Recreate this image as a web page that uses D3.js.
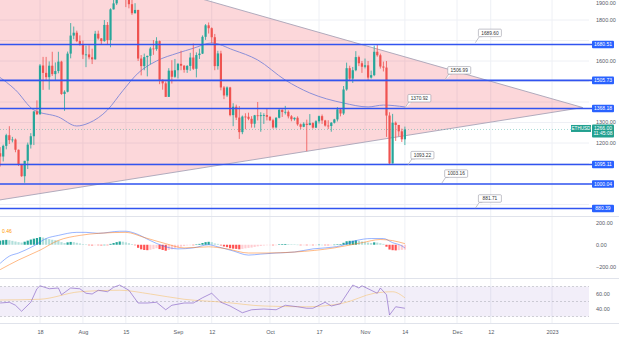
<!DOCTYPE html>
<html><head><meta charset="utf-8">
<script src="https://cdn.jsdelivr.net/npm/d3@7"></script>
<style>body{margin:0;background:#fff;}svg{display:block;font-family:"Liberation Sans",Arial,sans-serif;}</style>
</head><body><svg id="c" width="619" height="343"></svg>
<script>
// ---------- DATA (ETHUSD daily, 2022-07-04 .. 2022-11-14) ----------
const startDate = "2022-07-04";
const open = [1073,1150,1134,1186,1238,1214,1217,1167,1097,1038,1113,1192,1233,1354,1340,1578,1542,1521,1577,1536,1551,1597,1439,1450,1636,1724,1738,1697,
1679,1631,1632,1618,1608,1733,1710,1697,1776,1702,1852,1881,1956,1983,1935,1904,1877,1833,1849,1612,1575,1619,1625,1661,1658,1697,1508,1491,1425,1553,1523,
1555,1586,1577,1557,1576,1617,1562,1629,1636,1718,1774,1760,1716,1575,1637,1471,1432,1471,1336,1377,1324,1253,1329,1328,1318,1294,1335,1331,1336,1336,
1328,1311,1276,1323,1362,1351,1352,1330,1316,1323,1291,1279,1294,1288,1297,1275,1306,1331,1310,1285,1283,1299,1315,1364,1344,1461,1565,1514,1555,1619,1589,
1572,1579,1519,1531,1645,1628,1573,1568,1334,1100,1299,1288,1257,1218];
const high = [1160,1180,1192,1245,1282,1230,1222,1168,1098,1113,1202,1248,1355,1408,1585,1620,1620,1598,1645,1593,1645,1601,1457,1646,1785,1768,1748,1725,
1700,1675,1677,1660,1747,1748,1712,1800,1790,1857,1942,1960,2020,2030,2010,1920,1954,1882,1850,1629,1636,1626,1669,1702,1716,1700,1510,1500,1565,1604,1610,
1590,1650,1580,1580,1640,1685,1642,1660,1725,1780,1788,1764,1732,1650,1650,1478,1476,1474,1394,1387,1380,1334,1345,1348,1331,1337,1400,1350,1345,1370,
1330,1318,1326,1366,1364,1381,1359,1336,1325,1330,1295,1301,1314,1341,1301,1311,1334,1339,1313,1311,1302,1318,1375,1369,1478,1592,1577,1571,1648,1626,1600,
1612,1600,1553,1675,1680,1636,1597,1600,1350,1342,1305,1288,1270,1280];
const low = [1060,1085,1110,1169,1195,1203,1155,1088,1035,1006,1073,1173,1190,1337,1339,1459,1504,1460,1527,1508,1540,1435,1357,1447,1613,1706,1692,1675,
1610,1570,1608,1585,1607,1704,1678,1694,1680,1667,1851,1873,1957,1923,1863,1857,1825,1832,1600,1530,1555,1525,1584,1630,1650,1487,1460,1425,1425,1490,1518,
1515,1555,1543,1542,1552,1556,1520,1610,1634,1703,1734,1686,1555,1558,1457,1414,1424,1330,1282,1312,1220,1243,1267,1311,1275,1275,1310,1255,1293,1310,
1307,1270,1271,1320,1327,1339,1320,1306,1309,1284,1268,1277,1160,1286,1270,1273,1295,1293,1280,1268,1255,1295,1305,1330,1337,1455,1502,1493,1550,1575,1542,
1564,1504,1514,1526,1621,1563,1549,1230,1093,1100,1210,1232,1205,1190];
const close = [1150,1134,1186,1238,1214,1217,1167,1097,1038,1113,1192,1233,1354,1340,1578,1542,1521,1577,1536,1551,1597,1439,1450,1636,1724,1738,1697,1679,
1631,1632,1618,1608,1733,1710,1697,1776,1702,1852,1881,1956,1983,1935,1904,1877,1833,1849,1612,1575,1619,1625,1661,1658,1697,1508,1491,1425,1553,1523,1555,
1586,1577,1557,1576,1617,1562,1629,1636,1718,1774,1760,1716,1575,1637,1471,1432,1471,1336,1377,1324,1253,1329,1328,1318,1294,1335,1331,1336,1336,1328,
1311,1276,1323,1362,1351,1352,1330,1316,1323,1291,1279,1294,1288,1297,1275,1306,1331,1310,1285,1283,1299,1315,1364,1344,1461,1565,1514,1555,1619,1589,1572,
1579,1519,1531,1645,1628,1573,1568,1334,1100,1299,1288,1257,1218,1266];

// 50-day moving average
const maDates  = ["2022-07-04","2022-07-10","2022-07-16","2022-07-24","2022-07-30","2022-08-03","2022-08-09","2022-08-14","2022-08-19","2022-08-25","2022-09-01","2022-09-06","2022-09-12","2022-09-19","2022-09-27","2022-10-06","2022-10-14","2022-10-25","2022-11-02","2022-11-07","2022-11-14"];
const maValues = [1530,1459,1361,1327,1283,1298,1361,1455,1541,1600,1639,1662,1688,1654,1605,1507,1444,1395,1376,1385,1376];

// horizontal levels and callouts
const levelValues  = [1680.51,1505.73,1368.18,1095.11,1000.04,880.39];
const levelLabels  = ["1680.51","1505.73","1368.18","1095.11","1000.04","880.39"];
const calloutLabels = ["1689.60","1506.99","1370.92","1093.22","1003.16","881.71"];
const calloutValues = [1689.60,1506.99,1370.92,1093.22,1003.16,881.71];
const calloutDates  = ["2022-12-07","2022-11-27","2022-11-14","2022-11-15","2022-11-26","2022-12-07"];

// triangle (symmetrical) vertices
const triDates  = ["2022-07-01","2023-01-11","2022-07-01"];
const triValues = [2200,1373,913];

const lastPrice = 1266.00;
const lastTime = "11:45:08";
const symbol = "ETHUSD";

// price axis ticks
const priceTicks = [1900,1800,1700,1600,1500,1400,1300,1200,1100,1000,900];

// MACD
const macdDates  = ["2022-07-05","2022-07-08","2022-07-11","2022-07-16","2022-07-20","2022-07-24","2022-07-30","2022-08-02","2022-08-06","2022-08-13","2022-08-15","2022-08-18","2022-08-23","2022-08-27","2022-09-01","2022-09-06","2022-09-11","2022-09-14","2022-09-19","2022-09-24","2022-09-28","2022-10-03","2022-10-09","2022-10-15","2022-10-19","2022-10-24","2022-10-29","2022-11-03","2022-11-07","2022-11-10","2022-11-13","2022-11-14"];
const macdValues = [-171,-105,-76,-10,57,86,114,114,105,124,124,105,38,-10,-38,-29,0,-19,-57,-95,-86,-76,-67,-38,-29,-10,38,57,57,19,-10,-29];
const signalDates  = ["2022-07-05","2022-07-11","2022-07-18","2022-07-24","2022-07-31","2022-08-06","2022-08-15","2022-08-21","2022-08-28","2022-09-03","2022-09-11","2022-09-17","2022-09-24","2022-09-30","2022-10-09","2022-10-22","2022-10-31","2022-11-06","2022-11-10","2022-11-14"];
const signalValues = [-229,-140,-50,40,86,105,114,67,10,-29,-19,-38,-76,-76,-67,-29,19,48,38,10];
const histValues = [30,38,42,45,42,36,30, 24,20,28,38,48,56,62, 70,66,58,52,46,42,38, 24,16,22,26,24,18,12,
 6,2,-3,-6,-2,-4,-6, 0,-2,8,16,24,30,28, 22,14,6,-2,-28,-42,-48, -50,-46,-40,-32,-40,-48,-55,
 -48,-42,-34,-26,-18,-12,-6, -2,-4,2,8,16,24,27, 24,12,8,-6,-16,-22,-32, -36,-38,-42,-38,-33,-29,-26,
 -20,-15,-11,-7,-4,-3,-5, -1,4,6,7,6,5,4, 1,-2,-2,-4,-2,-3,-1, 1,0,-2,-3,-1,1,5,
 6,18,32,36,37,40,36, 30,26,20,16,22,20,14, 8,-18,-44,-50,-52,-50,-47,-45];
const macdTicks = [200,0,-200];

// RSI
const rsiDates = ["2022-07-05","2022-07-08","2022-07-10","2022-07-12","2022-07-15","2022-07-17","2022-07-18","2022-07-21","2022-07-24","2022-07-25","2022-07-28","2022-07-31","2022-08-02","2022-08-04","2022-08-06","2022-08-09","2022-08-11","2022-08-13","2022-08-16","2022-08-19","2022-08-22","2022-08-25","2022-08-28","2022-08-30","2022-09-03","2022-09-06","2022-09-09","2022-09-12","2022-09-15","2022-09-18","2022-09-22","2022-09-25","2022-09-29","2022-10-03","2022-10-06","2022-10-10","2022-10-13","2022-10-15","2022-10-19","2022-10-21","2022-10-24","2022-10-28","2022-10-30","2022-10-31","2022-11-03","2022-11-05","2022-11-06","2022-11-08","2022-11-09","2022-11-11","2022-11-14"];
const rsiValues = [48,49,45,37,49,67,71,67,68,59,68,67,61,60,65,63,69,72,65,48,48,49,39,45,48,48,55,61,49,44,35,39,40,39,45,43,41,41,49,44,47,72,68,71,65,61,68,59,32,43,41];
const rsiMaDates = ["2022-07-05","2022-07-18","2022-07-31","2022-08-13","2022-08-23","2022-09-03","2022-09-16","2022-09-29","2022-10-13","2022-10-25","2022-11-04","2022-11-10","2022-11-14"];
const rsiMaValues = [52,53,63,65,60,53,49,44,43,48,61,63,55];
const rsiTicks = [60,40];

// date axis
const tickDates  = ["2022-07-18","2022-08-01","2022-08-15","2022-09-01","2022-09-12","2022-10-01","2022-10-17","2022-11-01","2022-11-14","2022-12-01","2022-12-12","2023-01-01"];
const tickLabels = ["18","Aug","15","Sep","12","Oct","17","Nov","14","Dec","12","2023"];

// ---------- DRAW ----------
const P = d3.utcParse("%Y-%m-%d");
const svg = d3.select("#c");
const plotR = 589;
const main = {top:0,bottom:216}, mp = {top:217,bottom:277}, rp = {top:279,bottom:323};

const x = d3.scaleUtc().domain([P("2022-07-18"), P("2022-12-01")]).range([40,457]);
const y = d3.scaleLinear().domain([900,1800]).range([204.5,20]);
const yM = d3.scaleLinear().domain([-200,200]).range([266.5,223]);
const yR = d3.scaleLinear().domain([30,70]).range([316.5,286.5]);

const days = d3.utcDay.range(P(startDate), d3.utcDay.offset(P(startDate), close.length));
const candles = days.map((d,i)=>({d, o:open[i], h:high[i], l:low[i], c:close[i], hist:histValues[i]}));

const defs = svg.append("defs");
[["cm",main],["cmacd",mp],["crsi",rp]].forEach(([id,p])=>{
  defs.append("clipPath").attr("id",id).append("rect").attr("x",0).attr("y",p.top).attr("width",plotR).attr("height",p.bottom-p.top);
});

// grids
const grid = svg.append("g");
grid.selectAll(".vg").data(tickDates).join("line")
  .attr("x1",d=>x(P(d))).attr("x2",d=>x(P(d))).attr("y1",0).attr("y2",323)
  .attr("stroke","#eef0f5").attr("stroke-width",1);
grid.selectAll(".hg").data(priceTicks).join("line")
  .attr("x1",0).attr("x2",plotR).attr("y1",d=>y(d)).attr("y2",d=>y(d))
  .attr("stroke","#eef0f5").attr("stroke-width",1).attr("clip-path","url(#cm)");

// panel separators
[main.bottom+0.5, mp.bottom+1.5, rp.bottom+0.5].forEach(v=>{
  svg.append("line").attr("x1",0).attr("x2",619).attr("y1",v).attr("y2",v).attr("stroke","#e0e3eb");
});

// main panel
const gm = svg.append("g").attr("clip-path","url(#cm)");
const triPts = triDates.map((d,i)=>[x(P(d)), y(triValues[i])]);
gm.append("path").attr("d", d3.line()(triPts)+"Z")
  .attr("fill","rgba(242,54,69,0.2)").attr("stroke","#a8a4b8").attr("stroke-width",0.9);

// current price line
gm.append("line").attr("x1",0).attr("x2",plotR).attr("y1",y(lastPrice)).attr("y2",y(lastPrice))
  .attr("stroke","#26a69a").attr("stroke-opacity",0.5).attr("stroke-dasharray","1,2").attr("stroke-width",0.8);

// MA
gm.append("path").datum(maDates.map((d,i)=>[x(P(d)), y(maValues[i])]))
  .attr("d", d3.line().curve(d3.curveMonotoneX)).attr("fill","none")
  .attr("stroke","#8b8fd8").attr("stroke-width",1);

// candles
const up="#26a69a", dn="#ef5350";
const cg = gm.append("g");
cg.selectAll(".w").data(candles).join("line")
  .attr("x1",d=>x(d.d)).attr("x2",d=>x(d.d)).attr("y1",d=>y(d.h)).attr("y2",d=>y(d.l))
  .attr("stroke",d=>d.c>=d.o?up:dn).attr("stroke-width",0.8);
cg.selectAll(".b").data(candles).join("rect")
  .attr("x",d=>x(d.d)-1.1).attr("width",2.2)
  .attr("y",d=>y(Math.max(d.o,d.c))).attr("height",d=>Math.max(0.8, Math.abs(y(d.o)-y(d.c))))
  .attr("fill",d=>d.c>=d.o?up:dn);

// levels
const lv = svg.append("g");
lv.selectAll("line").data(levelValues).join("line")
  .attr("x1",0).attr("x2",plotR+4).attr("y1",d=>y(d)).attr("y2",d=>y(d))
  .attr("stroke","#3154f0").attr("stroke-width",1.6);

// callouts
const co = svg.append("g");
calloutValues.forEach((v,i)=>{
  const ax = x(P(calloutDates[i])), ay = y(v);
  const bx = ax+3, by = ay-13.5, bw = 23, bh = 7.5;
  co.append("path").attr("d",`M${ax},${ay} L${bx+1},${by+bh} L${bx+4},${by+bh}`)
    .attr("fill","#fff").attr("stroke","#9a9aa6").attr("stroke-width",0.6);
  co.append("rect").attr("x",bx).attr("y",by).attr("width",bw).attr("height",bh).attr("rx",1)
    .attr("fill","#fff").attr("stroke","#9a9aa6").attr("stroke-width",0.6);
  co.append("text").attr("x",bx+bw/2).attr("y",by+bh/2).attr("dy","0.35em").attr("text-anchor","middle")
    .attr("font-size",4.8).attr("fill","#333").text(calloutLabels[i]);
});

// price axis
const blocked = levelValues.map(v=>y(v)).concat([y(lastPrice)+2]);
const shownTicks = priceTicks.filter(t=>blocked.every(b=>Math.abs(y(t)-b)>7));
const pax = svg.append("g").attr("transform",`translate(596,0)`)
  .call(d3.axisRight(y).tickValues(shownTicks).tickSize(0).tickPadding(0).tickFormat(d=>d3.format(".2f")(d)));
pax.select(".domain").remove();
pax.selectAll("text").attr("font-size",5.5).attr("fill","#555a66");
// keep the topmost label inside the picture
pax.selectAll(".tick").attr("transform",d=>`translate(0,${Math.max(3.5,y(d))})`);

// level labels on axis
const ll = svg.append("g");
levelValues.forEach((v,i)=>{
  ll.append("rect").attr("x",592).attr("y",y(v)-3.8).attr("width",22).attr("height",7.6).attr("rx",1).attr("fill","#2962ff");
  ll.append("text").attr("x",603).attr("y",y(v)).attr("dy","0.35em").attr("text-anchor","middle")
    .attr("font-size",5).attr("fill","#fff").text(levelLabels[i]);
});

// current price labels
const cp = svg.append("g");
const cy = y(lastPrice);
cp.append("rect").attr("x",571).attr("y",cy-4.5).attr("width",20).attr("height",7).attr("fill","#22a08f");
cp.append("text").attr("x",581).attr("y",cy-1).attr("dy","0.35em").attr("text-anchor","middle")
  .attr("font-size",4.6).attr("fill","#fff").text(symbol);
cp.append("rect").attr("x",592).attr("y",cy-5).attr("width",22).attr("height",13).attr("rx",1).attr("fill","#22a08f");
cp.append("text").attr("x",603).attr("y",cy-1.5).attr("dy","0.35em").attr("text-anchor","middle")
  .attr("font-size",5).attr("fill","#fff").text(d3.format(".2f")(lastPrice));
cp.append("text").attr("x",603).attr("y",cy+4.2).attr("dy","0.35em").attr("text-anchor","middle")
  .attr("font-size",5).attr("fill","#fff").text(lastTime);

// MACD panel
const gmacd = svg.append("g").attr("clip-path","url(#cmacd)");
gmacd.selectAll("rect").data(candles).join("rect")
  .attr("x",d=>x(d.d)-1.1).attr("width",2.2)
  .attr("y",d=>Math.min(yM(0), yM(d.hist))).attr("height",d=>Math.max(0.5,Math.abs(yM(d.hist)-yM(0))))
  .attr("fill",(d,i)=>{
    const prev = i>0 ? candles[i-1].hist : d.hist;
    if (d.hist>=0) return d.hist>=prev ? "#26a69a" : "#b2dfdb";
    return d.hist<prev ? "#ff5252" : "#ffcdd2";
  });
gmacd.append("path").datum(macdDates.map((d,i)=>[x(P(d)), yM(macdValues[i])]))
  .attr("d", d3.line().curve(d3.curveMonotoneX)).attr("fill","none").attr("stroke","#2962ff").attr("stroke-opacity",0.6).attr("stroke-width",0.8);
gmacd.append("path").datum(signalDates.map((d,i)=>[x(P(d)), yM(signalValues[i])]))
  .attr("d", d3.line().curve(d3.curveMonotoneX)).attr("fill","none").attr("stroke","#ff6d00").attr("stroke-opacity",0.6).attr("stroke-width",0.8);
svg.append("text").attr("x",2).attr("y",233).attr("font-size",5).attr("fill","#ff9800").text("0.46");
const max = svg.append("g").attr("transform","translate(596,0)")
  .call(d3.axisRight(yM).tickValues(macdTicks).tickSize(0).tickPadding(0).tickFormat(d=>d3.format(".2f")(d)));
max.select(".domain").remove();
max.selectAll("text").attr("font-size",5.5).attr("fill","#555a66");

// RSI panel
const grsi = svg.append("g").attr("clip-path","url(#crsi)");
grsi.append("rect").attr("x",0).attr("width",plotR).attr("y",yR(70)).attr("height",yR(30)-yR(70)).attr("fill","rgba(126,87,194,0.1)");
[70,50,30].forEach(v=>{
  grsi.append("line").attr("x1",0).attr("x2",plotR).attr("y1",yR(v)).attr("y2",yR(v))
    .attr("stroke","#9598a1").attr("stroke-opacity",0.6).attr("stroke-dasharray","2,2").attr("stroke-width",0.7);
});
grsi.append("path").datum(rsiMaDates.map((d,i)=>[x(P(d)), yR(rsiMaValues[i])]))
  .attr("d", d3.line().curve(d3.curveMonotoneX)).attr("fill","none").attr("stroke","#f5c67a").attr("stroke-opacity",0.8).attr("stroke-width",0.8);
grsi.append("path").datum(rsiDates.map((d,i)=>[x(P(d)), yR(rsiValues[i])]))
  .attr("d", d3.line()).attr("fill","none").attr("stroke","#7e57c2").attr("stroke-opacity",0.75).attr("stroke-width",0.8);
const rax = svg.append("g").attr("transform","translate(596,0)")
  .call(d3.axisRight(yR).tickValues(rsiTicks).tickSize(0).tickPadding(0).tickFormat(d=>d3.format(".2f")(d)));
rax.select(".domain").remove();
rax.selectAll("text").attr("font-size",5.5).attr("fill","#555a66");

// date axis
const dax = svg.append("g").attr("transform","translate(0,324)")
  .call(d3.axisBottom(x).tickValues(tickDates.map(P)).tickSize(0).tickPadding(6).tickFormat((d,i)=>tickLabels[i]));
dax.select(".domain").remove();
dax.selectAll("text").attr("font-size",5.5).attr("fill","#555a66");
</script></body></html>
